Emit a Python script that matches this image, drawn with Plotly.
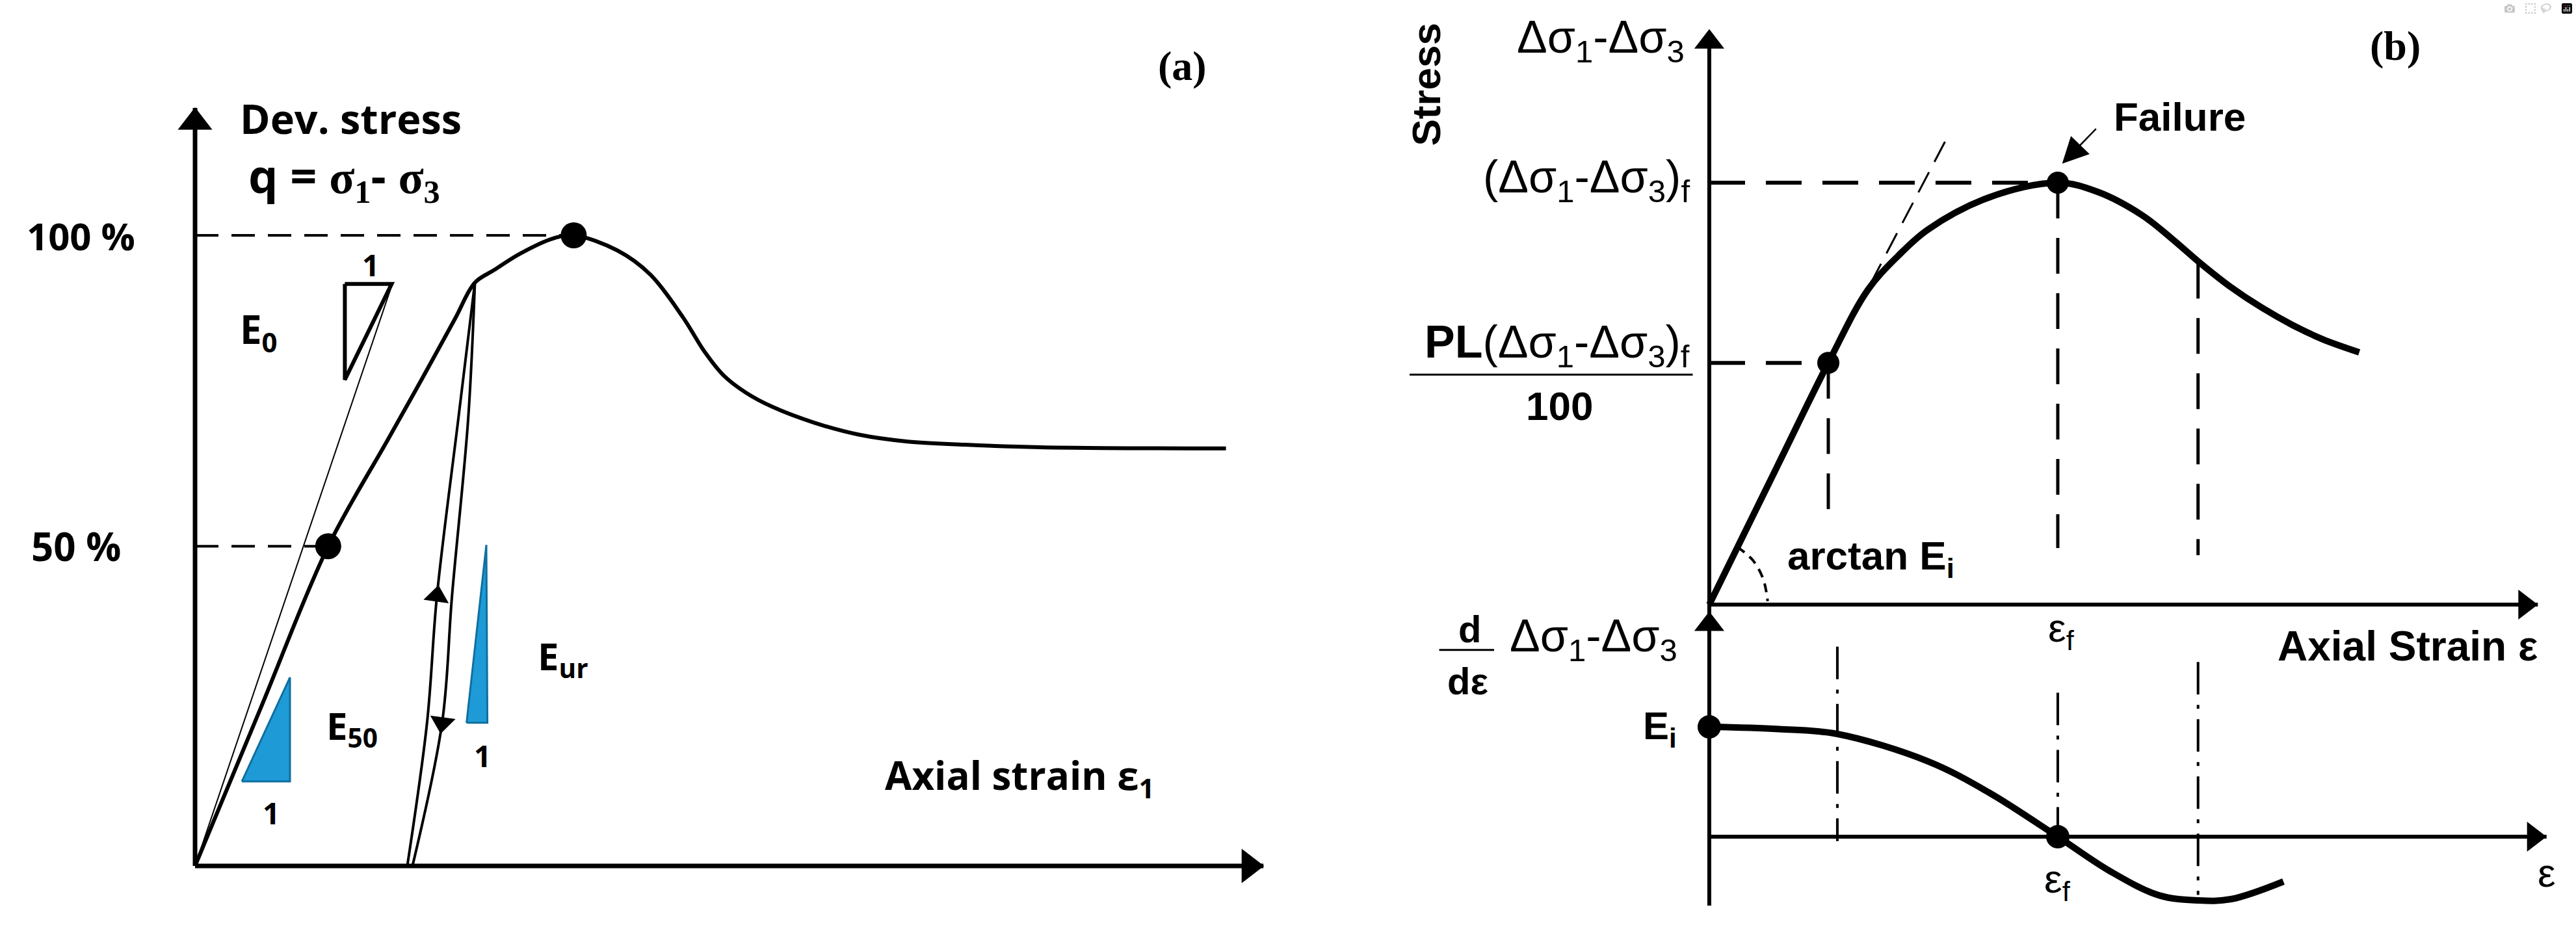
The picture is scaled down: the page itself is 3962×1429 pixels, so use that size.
import plotly.graph_objects as go

# ==========================================
# DATA - panel (a): deviatoric stress vs axial strain (q in % of peak)
# ==========================================
a_curve_x = [0, 0.64, 1.28, 1.85, 2.19, 2.50, 2.69, 2.875, 3.125, 3.44, 3.64,
             4.06, 4.375, 4.69, 4.90, 5.08, 5.30, 5.55, 5.95, 6.38, 6.85, 7.40, 8.13, 9.91]
a_curve_q = [0, 25.4, 50.7, 67.5, 77.5, 86.8, 92.5, 94.5, 97.1, 99.5, 100,
             97.6, 93.8, 87.0, 81.5, 77.8, 75.0, 72.8, 70.3, 68.4, 67.3, 66.8, 66.4, 66.2]
a_reload_x = [2.04, 2.23, 2.325, 2.53, 2.69]
a_reload_q = [0, 22.7, 42.8, 70.8, 92.5]
a_unload_x = [2.69, 2.625, 2.47, 2.375, 2.09]
a_unload_q = [92.5, 70.8, 42.8, 22.7, 0]
a_e0_x = [0, 1.89]
a_e0_q = [0, 92.0]
a_dot_x = [1.28, 3.64]
a_dot_q = [50.7, 100]
a_tri_e0_x = [1.44, 1.89, 1.44, 1.44]
a_tri_e0_q = [92.3, 92.3, 77.1, 92.3]
a_tri_e50_x = [0.45, 0.9125, 0.9125, 0.45]
a_tri_e50_q = [13.4, 13.4, 29.9, 13.4]
a_tri_eur_x = [2.61, 2.81, 2.80, 2.61]
a_tri_eur_q = [22.7, 22.7, 50.9, 22.7]
a_axis_x_end = 10.27
a_axis_q_end = 120.2

# ==========================================
# DATA - panel (b): stress-strain (top) and its derivative (bottom)
# ==========================================
b_curve_e = [0, 0.776, 1.366, 1.82, 2.17, 2.51, 3.21, 4.0, 4.46, 4.96, 5.30,
             5.65, 5.99, 6.34, 6.69, 7.04, 7.46]
b_curve_s = [0, 32.6, 57.3, 74.6, 82.7, 88.9, 96.5, 100, 97.8, 92.4, 86.9,
             80.7, 75.2, 70.4, 66.3, 62.9, 59.8]
b_tangent_e = [1.85, 2.72]
b_tangent_s = [76.0, 110.3]
b_arc_e = [0.32, 0.50, 0.62, 0.67]
b_arc_s = [13.7, 10.5, 6.0, 0.8]
b_pl_e, b_pl_s = 1.366, 57.3
b_fail_e, b_fail_s = 4.0, 100
b_post_e, b_post_s = 5.61, 81.0
b_deriv_e = [0, 0.8, 1.47, 2.51, 3.21, 4.0, 4.60, 5.16, 5.61, 5.99, 6.59]
b_deriv_d = [1.0, 0.98, 0.935, 0.686, 0.402, 0, -0.314, -0.533, -0.580, -0.568, -0.408]
b_vlow_e = [1.47, 4.0, 5.61]
b_vlow_top = [1.73, 1.31, 1.59]
b_vlow_bot = [-0.04, 0.0, -0.53]
b_vup_bot = [21.1, 13.4, 11.7]

# pixels per data unit, used only to size arrow heads
A_SX, A_SY = 160.0, 9.7
B_SX, B_SY, B_SD = 134.0, 6.49, 169.0

BLACK = "black"
BLUE = "#1E9BD7"
BLUE_EDGE = "#0F6FA0"
FONT_A = "'Open Sans', Lato, sans-serif"
FONT_B = "'Liberation Sans', Arial, sans-serif"
FONT_LBL = "'Liberation Serif', 'Times New Roman', serif"
SERIF = "<span style=\"font-family:'Liberation Serif', serif\"><b>{}</b></span>"

fig = go.Figure()


def line(x, y, width, xa="x", ya="y", dash=None, spline=False, color=BLACK):
    fig.add_trace(go.Scatter(
        x=x, y=y, mode="lines", xaxis=xa, yaxis=ya, hoverinfo="skip",
        line=dict(color=color, width=width, dash=dash,
                  shape="spline" if spline else "linear", smoothing=1.0)))


def dots(x, y, size, xa="x", ya="y"):
    fig.add_trace(go.Scatter(
        x=x, y=y, mode="markers", xaxis=xa, yaxis=ya, hoverinfo="skip",
        marker=dict(color=BLACK, size=size)))


def head(x, y, symbol, size, xa="x", ya="y", angle=0):
    fig.add_trace(go.Scatter(
        x=[x], y=[y], mode="markers", xaxis=xa, yaxis=ya, hoverinfo="skip",
        marker=dict(color=BLACK, size=size, symbol=symbol, angle=angle,
                    line=dict(width=0))))


def tri(x, y, fill, edge, width, xa="x", ya="y"):
    fig.add_trace(go.Scatter(
        x=x, y=y, mode="lines", fill="toself", fillcolor=fill, xaxis=xa, yaxis=ya,
        hoverinfo="skip", line=dict(color=edge, width=width)))


def txt(x, y, text, size, family, xref="x", yref="y", xanchor="center",
        yanchor="middle", angle=0):
    fig.add_annotation(x=x, y=y, xref=xref, yref=yref, text=text, showarrow=False,
                       xanchor=xanchor, yanchor=yanchor, textangle=angle,
                       font=dict(size=size, family=family, color=BLACK))


# ---------------- panel (a) ----------------
line([0, 0], [0, a_axis_q_end], 7)
line([0, a_axis_x_end], [0, 0], 7)
head(0, a_axis_q_end - 22 / A_SY, "triangle-up", 46)
head(a_axis_x_end - 22 / A_SX, 0, "triangle-right", 46)

line([0, a_dot_x[1]], [a_dot_q[1]] * 2, 4, dash="36px,20px")
line([0, a_dot_x[0]], [a_dot_q[0]] * 2, 4, dash="36px,20px")

line(a_e0_x, a_e0_q, 2)
tri(a_tri_e0_x, a_tri_e0_q, "white", BLACK, 6)
tri(a_tri_e50_x, a_tri_e50_q, BLUE, BLUE_EDGE, 3)
tri(a_tri_eur_x, a_tri_eur_q, BLUE, BLUE_EDGE, 3)

line(a_curve_x, a_curve_q, 6, spline=True)
line(a_reload_x, a_reload_q, 4, spline=True)
line(a_unload_x, a_unload_q, 4, spline=True)
head(a_reload_x[2], a_reload_q[2], "triangle-up", 34, angle=8)
head(a_unload_x[3], a_unload_q[3], "triangle-down", 34, angle=8)
dots(a_dot_x, a_dot_q, 40)

txt(0.42, 118.6, "<b>Dev. stress</b>", 63, FONT_A, xanchor="left")
txt(0.50, 109.3, "<b>q =</b> " + SERIF.format("σ<sub>1</sub>") + "<b>-</b> "
    + SERIF.format("σ<sub>3</sub>"), 72, FONT_A, xanchor="left")
txt(-0.56, 100, "<b>100 %</b>", 58, FONT_A, xanchor="right")
txt(-0.70, 50.7, "<b>50 %</b>", 60, FONT_A, xanchor="right")
txt(0.61, 84.8, "<b>E<sub>0</sub></b>", 60, FONT_A)
txt(1.69, 95.4, "<b>1</b>", 46, FONT_A)
txt(0.73, 8.5, "<b>1</b>", 46, FONT_A)
txt(2.76, 17.5, "<b>1</b>", 46, FONT_A)
txt(1.25, 22, "<b>E<sub>50</sub></b>", 58, FONT_A, xanchor="left")
txt(3.28, 33, "<b>E<sub>ur</sub></b>", 58, FONT_A, xanchor="left")
txt(6.62, 14.1, "<b>Axial strain ε<sub>1</sub></b>", 60, FONT_A, xanchor="left")
txt(9.49, 126.9, "<b>(a)</b>", 64, FONT_LBL)

# ---------------- panel (b) ----------------
# axes
line([0, 0], [-2.5, 136.4 - 20 / B_SY], 6, xa="x2", ya="y2")
line([0, 0], [-0.627, 2.05 - 20 / B_SD], 6, xa="x2", ya="y3")
line([0, 9.51], [0, 0], 6, xa="x2", ya="y2")
line([0, 9.61], [0, 0], 6, xa="x2", ya="y3")
head(0, 136.4 - 20 / B_SY, "triangle-up", 40, xa="x2", ya="y2")
head(0, 2.05 - 20 / B_SD, "triangle-up", 40, xa="x2", ya="y3")
head(9.51 - 20 / B_SX, 0, "triangle-right", 40, xa="x2", ya="y2")
head(9.61 - 20 / B_SX, 0, "triangle-right", 40, xa="x2", ya="y3")

# dashed guides (top)
line([0, b_fail_e], [b_fail_s] * 2, 6, xa="x2", ya="y2", dash="55px,32px")
line([0, b_pl_e], [b_pl_s] * 2, 6, xa="x2", ya="y2", dash="55px,32px")
for e, s_top, s_bot in zip([b_pl_e, b_fail_e, b_post_e], [b_pl_s, b_fail_s, b_post_s], b_vup_bot):
    line([e, e], [s_top, s_bot], 5, xa="x2", ya="y2", dash="55px,30px")
line(b_tangent_e, b_tangent_s, 3, xa="x2", ya="y2", dash="35px,18px")
line(b_arc_e, b_arc_s, 4, xa="x2", ya="y2", dash="14px,10px", spline=True)

# dash-dot guides (bottom)
for e, d_top, d_bot in zip(b_vlow_e, b_vlow_top, b_vlow_bot):
    line([e, e], [d_top, d_bot], 4, xa="x2", ya="y3", dash="50px,16px,6px,16px")

line(b_curve_e, b_curve_s, 10, xa="x2", ya="y2", spline=True)
line(b_deriv_e, b_deriv_d, 10, xa="x2", ya="y3", spline=True)
dots([b_pl_e, b_fail_e], [b_pl_s, b_fail_s], 34, xa="x2", ya="y2")
dots([0, b_fail_e], [1.0, 0], 36, xa="x2", ya="y3")

# Failure pointer
fig.add_annotation(x=4.05, y=104.5, xref="x2", yref="y2", ax=4.45, ay=113.0,
                   axref="x2", ayref="y2", text="", showarrow=True,
                   arrowhead=2, arrowsize=3.2, arrowwidth=2.5, arrowcolor=BLACK)

txt(5.40, 115.7, "<b>Failure</b>", 62, FONT_B, xref="x2", yref="y2")
txt(-3.25, 123.4, "<b>Stress</b>", 62, FONT_B, xref="x2", yref="y2", angle=-90)
txt(-0.27, 133.7, "Δσ<sub>1</sub>-Δσ<sub>3</sub>", 70, FONT_B, xref="x2", yref="y2", xanchor="right")
txt(-0.21, 100.6, "(Δσ<sub>1</sub>-Δσ<sub>3</sub>)<sub>f</sub>", 70, FONT_B, xref="x2", yref="y2", xanchor="right")
txt(-0.21, 61.5, "<b>PL</b>(Δσ<sub>1</sub>-Δσ<sub>3</sub>)<sub>f</sub>", 70, FONT_B, xref="x2", yref="y2", xanchor="right")
line([-3.44, -0.19], [54.5, 54.5], 3, xa="x2", ya="y2")
txt(-1.72, 47.0, "<b>100</b>", 62, FONT_B, xref="x2", yref="y2")
txt(0.88, 10.9, "<b>arctan E<sub>i</sub></b>", 62, FONT_B, xref="x2", yref="y2", xanchor="left")
txt(4.04, -6.2, "ε<sub>f</sub>", 62, FONT_B, xref="x2", yref="y2")
txt(6.51, -9.9, "<b>Axial Strain ε</b>", 64, FONT_B, xref="x2", yref="y2", xanchor="left")
txt(7.87, 132.4, "<b>(b)</b>", 64, FONT_LBL, xref="x2", yref="y2")

txt(-2.75, 1.89, "<b>d</b>", 58, FONT_B, xref="x2", yref="y3")
line([-3.10, -2.47], [1.70, 1.70], 3, xa="x2", ya="y3")
txt(-2.77, 1.42, "<b>dε</b>", 58, FONT_B, xref="x2", yref="y3")
txt(-0.35, 1.80, "Δσ<sub>1</sub>-Δσ<sub>3</sub>", 70, FONT_B, xref="x2", yref="y3", xanchor="right")
txt(-0.57, 0.98, "<b>E<sub>i</sub></b>", 60, FONT_B, xref="x2", yref="y3")
txt(4.0, -0.41, "ε<sub>f</sub>", 62, FONT_B, xref="x2", yref="y3")
txt(9.61, -0.33, "ε", 62, FONT_B, xref="x2", yref="y3")

# ==========================================
# LAYOUT - axes hidden, ranges chosen so both panels sit where they do in the figure
# ==========================================
hidden = dict(visible=False, showgrid=False, zeroline=False, fixedrange=True)
fig.update_layout(
    width=3962, height=1429,
    margin=dict(l=0, r=0, t=0, b=0),
    paper_bgcolor="white", plot_bgcolor="white",
    showlegend=False,
    xaxis=dict(domain=[0, 1], range=[-1.875, 22.8875], **hidden),
    yaxis=dict(domain=[0, 1], range=[-10.0, 137.32], **hidden),
    xaxis2=dict(domain=[0, 1], range=[-19.619, 9.948], overlaying="x", **hidden),
    yaxis2=dict(domain=[0, 1], range=[-76.89, 143.30], overlaying="y", **hidden),
    yaxis3=dict(domain=[0, 1], range=[-0.840, 7.615], overlaying="y", **hidden),
)

fig.write_html("out.html", post_script="document.body.style.margin='0';")
